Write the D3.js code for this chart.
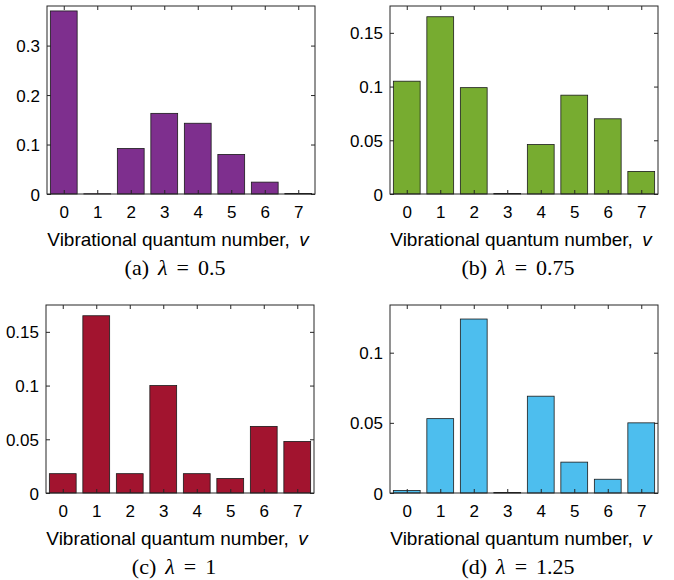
<!DOCTYPE html>
<html>
<head>
<meta charset="utf-8">
<script src="https://cdn.jsdelivr.net/npm/d3@7"></script>
<style>
body { margin: 0; background: #fff; }
.tick text { font-family: "Liberation Sans", Arial, sans-serif; font-size: 17px; fill: #000; }
.xlab { font-family: "Liberation Sans", Arial, sans-serif; font-size: 19px; fill: #000; }
.cap { font-family: "Liberation Serif", "DejaVu Serif", serif; font-size: 22px; fill: #000; }
</style>
</head>
<body>
<div id="chart"></div>
<script>
// vibrational levels on the x axis
var levels = [0, 1, 2, 3, 4, 5, 6, 7];

// populations
var probA = [0.370, 0.0005, 0.092, 0.163, 0.143, 0.080, 0.024, 0.001];
var probB = [0.105, 0.165, 0.099, 0.0005, 0.046, 0.092, 0.070, 0.021];
var probC = [0.018, 0.165, 0.018, 0.100, 0.018, 0.0135, 0.062, 0.048];
var probD = [0.0018, 0.053, 0.124, 0.0004, 0.069, 0.022, 0.0098, 0.050];

var ticksA = [0, 0.1, 0.2, 0.3];
var ticksB = [0, 0.05, 0.1, 0.15];
var ticksC = [0, 0.05, 0.1, 0.15];
var ticksD = [0, 0.05, 0.1];

var yMaxA = 0.38, yMaxB = 0.175, yMaxC = 0.175, yMaxD = 0.134;

var panels = [
  { tag: "(a)", lam: "0.5", data: probA, ticks: ticksA, ymax: yMaxA, color: "#7E2F8E", x0: 47, y0: 6 },
  { tag: "(b)", lam: "0.75", data: probB, ticks: ticksB, ymax: yMaxB, color: "#77AC30", x0: 390, y0: 6 },
  { tag: "(c)", lam: "1", data: probC, ticks: ticksC, ymax: yMaxC, color: "#A2142F", x0: 46, y0: 305 },
  { tag: "(d)", lam: "1.25", data: probD, ticks: ticksD, ymax: yMaxD, color: "#4DBEEE", x0: 390, y0: 305 }
];

var width = 674, height = 580;
var pw = 268, ph = 188;

var svg = d3.select("#chart").append("svg")
  .attr("width", width)
  .attr("height", height);

function fmt(d) {
  return d === 0 ? "0" : String(+d.toFixed(2));
}

panels.forEach(function(p) {
  var g = svg.append("g")
    .attr("transform", "translate(" + p.x0 + "," + p.y0 + ")");

  var x = d3.scaleLinear().domain([-0.5, 7.5]).range([0, pw]);
  var y = d3.scaleLinear().domain([0, p.ymax]).range([ph, 0]);

  g.selectAll(".bar")
    .data(p.data)
    .enter()
    .append("rect")
    .attr("class", "bar")
    .attr("x", function(d, i) { return x(levels[i] - 0.4); })
    .attr("y", function(d) { return y(d); })
    .attr("width", x(0.4) - x(-0.4))
    .attr("height", function(d) { return ph - y(d); })
    .attr("fill", p.color)
    .attr("stroke", "#1a1a1a")
    .attr("stroke-width", 0.8);

  // axes, ticks pointing inward like matlab
  var ax = g.append("g")
    .attr("transform", "translate(0," + ph + ")")
    .call(d3.axisBottom(x).tickValues(levels).tickSize(-4).tickPadding(12).tickFormat(d3.format("d")));
  ax.select(".domain").remove();

  var ay = g.append("g")
    .call(d3.axisLeft(y).tickValues(p.ticks).tickSize(-4).tickPadding(7).tickFormat(fmt));
  ay.select(".domain").remove();
  ay.selectAll(".tick text").attr("dy", "0.36em");

  var at = g.append("g")
    .call(d3.axisTop(x).tickValues(levels).tickSize(-4).tickFormat(""));
  at.select(".domain").remove();

  var ar = g.append("g")
    .attr("transform", "translate(" + pw + ",0)")
    .call(d3.axisRight(y).tickValues(p.ticks).tickSize(-4).tickFormat(""));
  ar.select(".domain").remove();

  g.selectAll(".tick line").attr("stroke", "#262626");

  g.append("rect")
    .attr("width", pw)
    .attr("height", ph)
    .attr("fill", "none")
    .attr("stroke", "#262626")
    .attr("stroke-width", 1);

  var lab = g.append("text")
    .attr("class", "xlab")
    .attr("x", pw / 2 - 3)
    .attr("y", ph + 52)
    .attr("text-anchor", "middle");
  lab.append("tspan").text("Vibrational quantum number,  ");
  lab.append("tspan").attr("font-style", "italic").attr("dx", 4).text("v");

  var cap = g.append("text")
    .attr("class", "cap")
    .attr("x", pw / 2 - 6)
    .attr("y", ph + 81)
    .attr("text-anchor", "middle");
  cap.append("tspan").text(p.tag);
  cap.append("tspan").attr("dx", 9).attr("font-style", "italic").text("λ");
  cap.append("tspan").attr("dx", 9).text("=");
  cap.append("tspan").attr("dx", 9).text(p.lam);
});
</script>
</body>
</html>
